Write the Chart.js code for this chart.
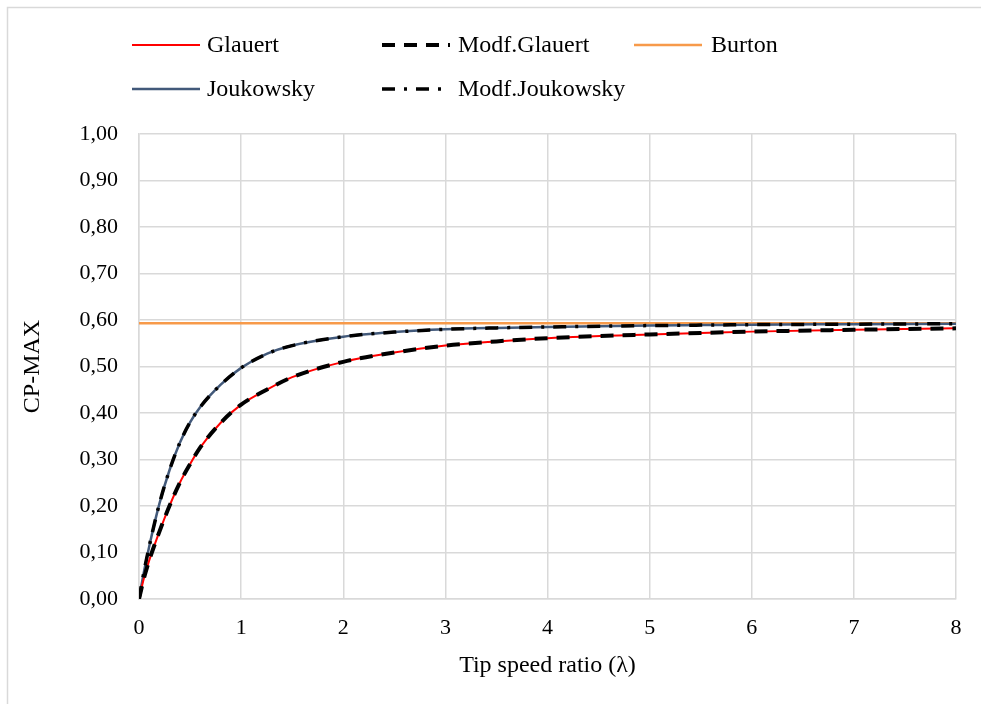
<!DOCTYPE html>
<html>
<head>
<meta charset="utf-8">
<script src="https://cdn.jsdelivr.net/npm/chart.js@4.4.0/dist/chart.umd.min.js"></script>
<style>
  html, body { margin: 0; padding: 0; background: #fff; }
  #wrap { width: 981px; height: 704px; }
</style>
</head>
<body>
<div id="wrap"><canvas id="myChart" width="981" height="704"></canvas></div>
<script>
// tip speed ratio values
var tsr = [0, 0.05, 0.1, 0.2, 0.3, 0.4, 0.5, 0.6, 0.8, 1, 1.25, 1.5, 2, 2.5, 3, 3.5, 4, 5, 5.5, 6, 7, 8];
// Cp max per model
var glauert     = [0, 0.046, 0.083, 0.145, 0.201, 0.250, 0.290, 0.326, 0.379, 0.418, 0.450, 0.477, 0.510, 0.530, 0.545, 0.554, 0.561, 0.569, 0.572, 0.575, 0.579, 0.582];
var modfGlauert = [0, 0.046, 0.083, 0.145, 0.201, 0.250, 0.290, 0.326, 0.379, 0.418, 0.450, 0.477, 0.510, 0.530, 0.545, 0.554, 0.561, 0.569, 0.572, 0.575, 0.579, 0.582];
var joukowsky     = [0, 0.060, 0.113, 0.205, 0.278, 0.336, 0.380, 0.413, 0.461, 0.497, 0.527, 0.545, 0.564, 0.574, 0.580, 0.583, 0.585, 0.588, 0.589, 0.590, 0.591, 0.592];
var modfJoukowsky = [0, 0.060, 0.113, 0.205, 0.278, 0.336, 0.380, 0.413, 0.461, 0.497, 0.527, 0.545, 0.564, 0.574, 0.580, 0.583, 0.585, 0.588, 0.589, 0.590, 0.591, 0.592];
var burtonX = [0, 8];
var burton  = [0.593, 0.593];

var xTicks = [0, 1, 2, 3, 4, 5, 6, 7, 8];

function pts(xs, ys) {
  return xs.map(function(x, i) { return {x: x, y: ys[i]}; });
}

var serif = "'Liberation Serif', 'Times New Roman', serif";

var legendPlugin = {
  id: 'customLegend',
  beforeDraw: function(chart) {
    var ctx = chart.ctx;
    ctx.save();
    ctx.fillStyle = '#fff';
    ctx.fillRect(0, 0, chart.width, chart.height);
    ctx.strokeStyle = '#d9d9d9';
    ctx.lineWidth = 1.5;
    ctx.beginPath();
    ctx.moveTo(7.5, chart.height + 2);
    ctx.lineTo(7.5, 7.5);
    ctx.lineTo(chart.width + 2, 7.5);
    ctx.stroke();
    ctx.restore();
  },
  afterDraw: function(chart) {
    var ctx = chart.ctx;
    // legend slots: [dataset index, lineX, textX, y]
    var slots = [[0, 132, 207, 45], [1, 382, 458, 45], [2, 634, 711, 45], [3, 132, 207, 89], [4, 382, 458, 89]];
    ctx.save();
    ctx.font = '24px ' + serif;
    ctx.textBaseline = 'middle';
    ctx.fillStyle = '#000';
    slots.forEach(function(s) {
      var ds = chart.data.datasets[s[0]];
      ctx.beginPath();
      ctx.strokeStyle = ds.borderColor;
      ctx.lineWidth = ds.borderWidth;
      ctx.setLineDash(ds.borderDash || []);
      ctx.moveTo(s[1], s[3]);
      ctx.lineTo(s[1] + 68, s[3]);
      ctx.stroke();
      ctx.setLineDash([]);
      ctx.fillText(ds.label, s[2], s[3] + 1);
    });
    ctx.restore();
  }
};

new Chart("myChart", {
  type: "line",
  data: {
    datasets: [{
      label: "Glauert",
      data: pts(tsr, glauert),
      borderColor: "#ff0000",
      borderWidth: 2,
      order: 3
    }, {
      label: "Modf.Glauert",
      data: pts(tsr, modfGlauert),
      borderColor: "#000000",
      borderWidth: 4,
      borderDash: [13, 9],
      order: 1
    }, {
      label: "Burton",
      data: pts(burtonX, burton),
      borderColor: "#f79a4a",
      borderWidth: 2.5,
      order: 4
    }, {
      label: "Joukowsky",
      data: pts(tsr, joukowsky),
      borderColor: "#42597a",
      borderWidth: 2.5,
      order: 3
    }, {
      label: "Modf.Joukowsky",
      data: pts(tsr, modfJoukowsky),
      borderColor: "#000000",
      borderWidth: 3.5,
      borderDash: [13, 9, 3, 9],
      order: 2
    }]
  },
  options: {
    responsive: false,
    animation: false,
    parsing: false,
    elements: {
      point: { radius: 0 },
      line: { cubicInterpolationMode: 'monotone', fill: false }
    },
    layout: { padding: { top: 134, right: 25, left: 0, bottom: 0 } },
    plugins: {
      legend: { display: false },
      tooltip: { enabled: false }
    },
    scales: {
      x: {
        type: 'linear',
        min: 0,
        max: 8,
        afterBuildTicks: function(scale) {
          scale.ticks = xTicks.map(function(v) { return {value: v}; });
        },
        afterFit: function(scale) { scale.height = 105; },
        grid: { color: '#d9d9d9', lineWidth: 1.5, drawTicks: false },
        border: { color: '#d9d9d9', width: 1.5 },
        ticks: {
          padding: 16,
          color: '#000',
          font: { family: serif, size: 22 },
          maxRotation: 0
        },
        title: {
          display: true,
          text: 'Tip speed ratio (λ)',
          color: '#000',
          font: { family: serif, size: 24 },
          padding: { top: 0, bottom: 24 }
        }
      },
      y: {
        min: 0,
        max: 1,
        afterFit: function(scale) { scale.width = 139; },
        grid: { color: '#d9d9d9', lineWidth: 1.5, drawTicks: false },
        border: { color: '#d9d9d9', width: 1.5 },
        ticks: {
          stepSize: 0.1,
          padding: 21,
          color: '#000',
          font: { family: serif, size: 22 },
          callback: function(v) { return v.toFixed(2).replace('.', ','); }
        },
        title: {
          display: true,
          text: 'CP-MAX',
          color: '#000',
          font: { family: serif, size: 24 },
          padding: { top: 18, bottom: 0 }
        }
      }
    }
  },
  plugins: [legendPlugin]
});
</script>
</body>
</html>
